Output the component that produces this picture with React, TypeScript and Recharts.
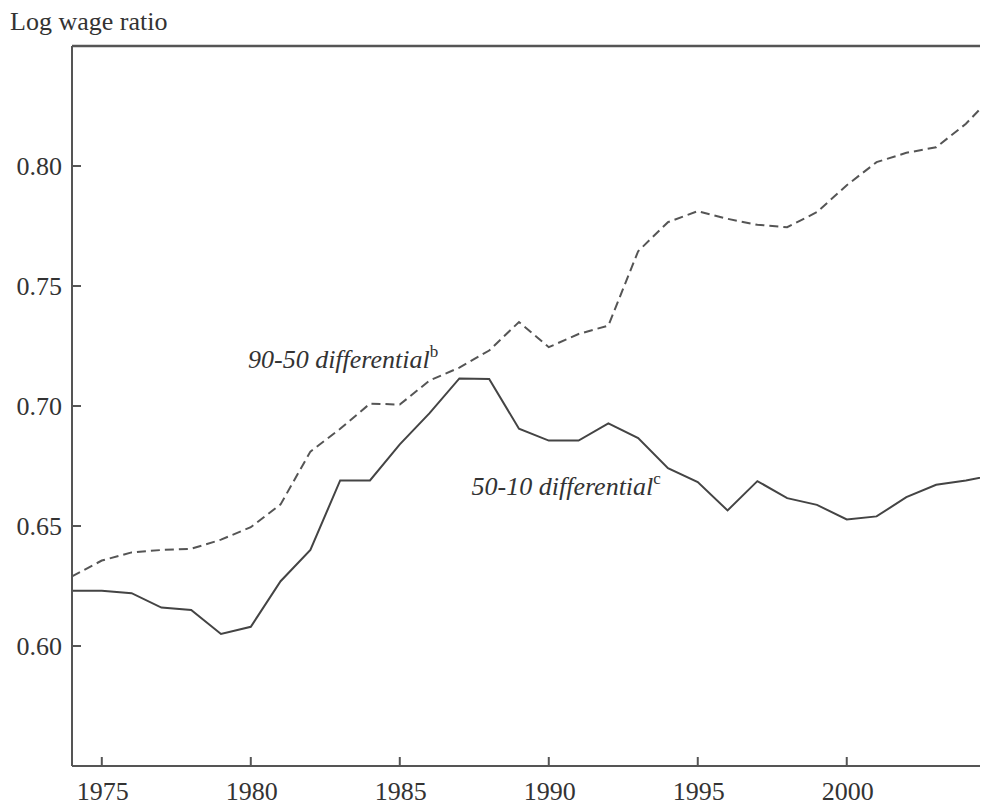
import React from 'react';
import { LineChart, Line, XAxis, YAxis, ReferenceLine, ReferenceDot } from 'recharts';

const years = [
  1974, 1975, 1976, 1977, 1978, 1979, 1980, 1981, 1982, 1983, 1984, 1985, 1986, 1987, 1988, 1989,
  1990, 1991, 1992, 1993, 1994, 1995, 1996, 1997, 1998, 1999, 2000, 2001, 2002, 2003, 2004, 2005,
];

// 90-50 differential (dashed)
const diff9050 = [
  0.629, 0.6356, 0.639, 0.640, 0.6405, 0.6443, 0.6495, 0.659, 0.681, 0.6905, 0.701, 0.7006, 0.7106,
  0.716, 0.7231, 0.735, 0.7245, 0.730, 0.7335, 0.7645, 0.7766, 0.7812, 0.778, 0.7755, 0.7745,
  0.7808, 0.792, 0.8016, 0.8055, 0.8078, 0.8176, 0.8306,
];

// 50-10 differential (solid)
const diff5010 = [
  0.623, 0.623, 0.622, 0.616, 0.615, 0.605, 0.608, 0.627, 0.640, 0.669, 0.669, 0.684, 0.697,
  0.7115, 0.7113, 0.6905, 0.6856, 0.6856, 0.6928, 0.6866, 0.6741, 0.6683, 0.6565, 0.6687, 0.6616,
  0.6588, 0.6527, 0.654, 0.662, 0.6672, 0.669, 0.6713,
];

const xTicks = [1975, 1980, 1985, 1990, 1995, 2000];
const yTicks = [0.6, 0.65, 0.7, 0.75, 0.8];

const data = years.map((year, i) => ({ year, d9050: diff9050[i], d5010: diff5010[i] }));

const FONT = '"Liberation Serif", "Times New Roman", serif';
const INK = '#333';
const AXIS = '#555';

const YTick = (props: any) => {
  const { x, y, payload } = props;
  return (
    <g>
      <line x1={x} x2={x + 9} y1={y} y2={y} stroke={AXIS} strokeWidth={2} />
      <text x={x - 10} y={y + 9} textAnchor="end" fontFamily={FONT} fontSize={26} fill={INK}>
        {payload.value.toFixed(2)}
      </text>
    </g>
  );
};

const XTick = (props: any) => {
  const { x, y, payload } = props;
  return (
    <g>
      <line x1={x} x2={x} y1={y} y2={y - 9} stroke={AXIS} strokeWidth={2} />
      <text x={x + 1} y={y + 34} textAnchor="middle" fontFamily={FONT} fontSize={26} fill={INK}>
        {payload.value}
      </text>
    </g>
  );
};

const seriesLabel = (main: string, sup: string) => (props: any) => {
  const { viewBox } = props;
  return (
    <text x={viewBox.x} y={viewBox.y} fontFamily={FONT} fontSize={26} fontStyle="italic" fill={INK}>
      {main}
      <tspan dy={-11} fontSize={17} fontStyle="normal">
        {sup}
      </tspan>
    </text>
  );
};

export default function App() {
  return (
    <div style={{ width: 980, height: 800, marginBottom: -8, position: 'relative' }}>
      <svg width={980} height={40} style={{ position: 'absolute', left: 0, top: 0 }}>
        <text x={2} y={21.5} fontFamily={FONT} fontSize={26} fill={INK}>
          Log wage ratio
        </text>
      </svg>
      <LineChart
        width={980}
        height={800}
        data={data}
        margin={{ top: 38, right: 0, bottom: 8, left: 0 }}
      >
        <XAxis
          dataKey="year"
          type="number"
          domain={[1974, 2004.74]}
          allowDataOverflow
          ticks={xTicks}
          tick={<XTick />}
          tickLine={false}
          tickSize={0}
          tickMargin={0}
          height={34}
          axisLine={{ stroke: AXIS, strokeWidth: 2 }}
        />
        <YAxis
          type="number"
          domain={[0.55, 0.85]}
          allowDataOverflow
          ticks={yTicks}
          tick={<YTick />}
          tickLine={false}
          tickSize={0}
          tickMargin={0}
          width={64}
          axisLine={{ stroke: AXIS, strokeWidth: 2 }}
        />
        <ReferenceLine y={0.85} stroke={AXIS} strokeWidth={2.5} />
        <Line
          type="linear"
          dataKey="d9050"
          stroke="#555"
          strokeWidth={2}
          strokeDasharray="9 5"
          dot={false}
          isAnimationActive={false}
        />
        <Line
          type="linear"
          dataKey="d5010"
          stroke="#444"
          strokeWidth={2}
          dot={false}
          isAnimationActive={false}
        />
        <ReferenceDot
          x={1979.906}
          y={0.7158}
          r={0.01}
          fill="none"
          stroke="none"
          label={{ content: seriesLabel('90-50 differential', 'b') }}
        />
        <ReferenceDot
          x={1987.41}
          y={0.6629}
          r={0.01}
          fill="none"
          stroke="none"
          label={{ content: seriesLabel('50-10 differential', 'c') }}
        />
      </LineChart>
    </div>
  );
}
